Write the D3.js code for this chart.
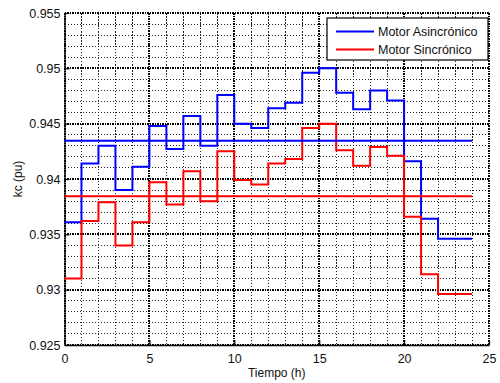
<!DOCTYPE html>
<html>
<head>
<meta charset="utf-8">
<script src="https://cdn.jsdelivr.net/npm/d3@7"></script>
<style>
  body { margin: 0; background: #fff; }
  svg { display: block; font-family: "Liberation Sans", Arial, sans-serif; }
</style>
</head>
<body>
<svg id="chart" width="500" height="383"></svg>
<script>
// hourly values (one per hour, 0..23)
const hours = d3.range(0, 24);
const asincronico = [0.9361, 0.9414, 0.9430, 0.9390, 0.9411, 0.9448, 0.9427, 0.9457,
                     0.9430, 0.9476, 0.9450, 0.9446, 0.9464, 0.9469, 0.9496, 0.9500,
                     0.9478, 0.9463, 0.9480, 0.9471, 0.9416, 0.9364, 0.9346, 0.9346];
const sincronico  = [0.9310, 0.9362, 0.9379, 0.9340, 0.9361, 0.9397, 0.9377, 0.9407,
                     0.9380, 0.9425, 0.9399, 0.9395, 0.9414, 0.9418, 0.9446, 0.9450,
                     0.9426, 0.9412, 0.9429, 0.9421, 0.9366, 0.9314, 0.9296, 0.9296];
const meanAsinc = 0.94346;
const meanSinc = 0.93843;
const seriesNames = ["Motor Asincrónico", "Motor Sincrónico"];
const xTicks = [0, 5, 10, 15, 20, 25];
const yTicks = [0.925, 0.93, 0.935, 0.94, 0.945, 0.95, 0.955];

const svg = d3.select("#chart");
const margin = { top: 13, right: 11, bottom: 38, left: 64.5 };
const width = 500, height = 383;
const innerWidth = width - margin.left - margin.right;
const innerHeight = height - margin.top - margin.bottom;

const g = svg.append("g")
    .attr("transform", `translate(${margin.left},${margin.top})`);

const x = d3.scaleLinear().domain([0, 25]).range([0, innerWidth]);
const y = d3.scaleLinear().domain([0.925, 0.955]).range([innerHeight, 0]);

// GRID (minor then major, dotted)
const minorX = d3.range(0, 26).filter(v => v % 5 !== 0);
const minorY = d3.range(0, 31).map(i => 0.925 + i * 0.001).filter((v, i) => i % 5 !== 0);

const grid = g.append("g").attr("shape-rendering", "crispEdges");
grid.append("g").selectAll("line").data(minorX).join("line")
    .attr("x1", d => x(d)).attr("x2", d => x(d))
    .attr("y1", 0).attr("y2", innerHeight)
    .attr("stroke", "#222").attr("stroke-width", 1)
    .attr("stroke-dasharray", "1.5,1.5");
grid.append("g").selectAll("line").data(minorY).join("line")
    .attr("y1", d => y(d)).attr("y2", d => y(d))
    .attr("x1", 0).attr("x2", innerWidth)
    .attr("stroke", "#222").attr("stroke-width", 1)
    .attr("stroke-dasharray", "1.5,1.5");
grid.append("g").selectAll("line").data(xTicks).join("line")
    .attr("x1", d => x(d)).attr("x2", d => x(d))
    .attr("y1", 0).attr("y2", innerHeight)
    .attr("stroke", "#000").attr("stroke-width", 2)
    .attr("stroke-dasharray", "1.5,1");
grid.append("g").selectAll("line").data(yTicks).join("line")
    .attr("y1", d => y(d)).attr("y2", d => y(d))
    .attr("x1", 0).attr("x2", innerWidth)
    .attr("stroke", "#000").attr("stroke-width", 2)
    .attr("stroke-dasharray", "1.5,1");

// AXES
const xAxis = g.append("g")
    .attr("transform", `translate(0,${innerHeight})`)
    .call(d3.axisBottom(x).tickValues(xTicks).tickSize(-5).tickPadding(9).tickSizeOuter(0));
const yAxis = g.append("g")
    .call(d3.axisLeft(y).tickValues(yTicks).tickFormat(d => String(+d.toFixed(3))).tickSize(-5).tickPadding(4).tickSizeOuter(0));
[xAxis, yAxis].forEach(a => {
    a.selectAll("text").attr("font-size", 12.5).attr("fill", "#111")
        .attr("font-family", "'Liberation Sans', Arial, sans-serif");
    a.selectAll("line").attr("stroke", "#000").attr("stroke-width", 1.2);
    a.select(".domain").attr("stroke", "#000").attr("stroke-width", 1.3);
});

// STEP LINES
const line = d3.line()
    .x(d => x(d[0]))
    .y(d => y(d[1]))
    .curve(d3.curveStepAfter);

const toPts = vals => {
    const pts = hours.map((h, i) => [h, vals[i]]);
    pts.push([24, vals[vals.length - 1]]);
    return pts;
};

const colors = ["#0000ff", "#ff0000"];

[asincronico, sincronico].forEach((vals, i) => {
    g.append("path")
        .datum(toPts(vals))
        .attr("fill", "none")
        .attr("stroke", colors[i])
        .attr("stroke-width", 2)
        .attr("d", line);
});

// MEAN LINES
[meanAsinc, meanSinc].forEach((m, i) => {
    g.append("line")
        .attr("x1", x(0)).attr("x2", x(24))
        .attr("y1", y(m)).attr("y2", y(m))
        .attr("stroke", colors[i])
        .attr("stroke-width", 2);
});

// LEGEND
const lg = svg.append("g").attr("transform", "translate(327,18)");
lg.append("rect")
    .attr("width", 161).attr("height", 42)
    .attr("fill", "#fff").attr("stroke", "#000").attr("stroke-width", 1.2);
seriesNames.forEach((name, i) => {
    const yy = 13.5 + i * 18;
    lg.append("line")
        .attr("x1", 9).attr("x2", 47)
        .attr("y1", yy).attr("y2", yy)
        .attr("stroke", colors[i]).attr("stroke-width", 2);
    lg.append("text")
        .attr("x", 51).attr("y", yy)
        .attr("dy", "0.35em")
        .attr("font-size", 12.5)
        .attr("fill", "#111")
        .text(name);
});

// LABELS
svg.append("text")
    .attr("x", margin.left + innerWidth / 2)
    .attr("y", 377)
    .attr("text-anchor", "middle")
    .attr("font-size", 12)
    .attr("fill", "#111")
    .text("Tiempo (h)");

svg.append("text")
    .attr("transform", `translate(22,${margin.top + innerHeight / 2}) rotate(-90)`)
    .attr("text-anchor", "middle")
    .attr("font-size", 12)
    .attr("fill", "#111")
    .text("kc (pu)");
</script>
</body>
</html>
